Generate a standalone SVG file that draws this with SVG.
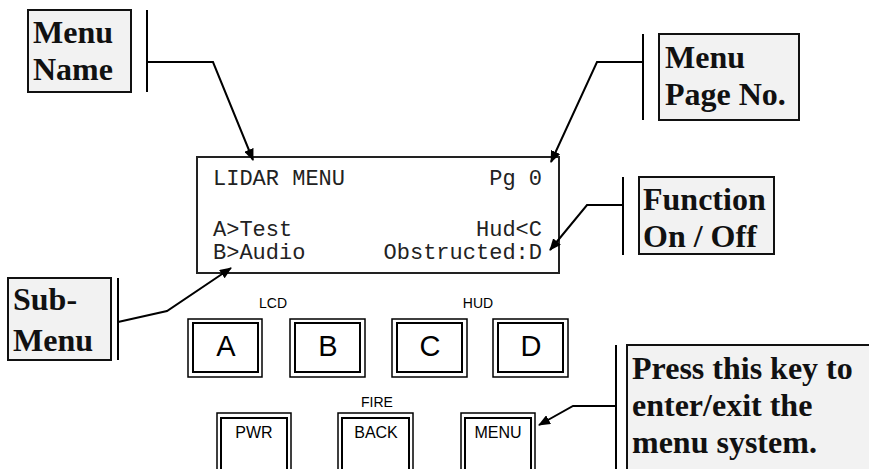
<svg xmlns="http://www.w3.org/2000/svg" width="869" height="469" viewBox="0 0 869 469">
<style>
.callout{fill:#f2f2f2;stroke:#111;stroke-width:2}
.bar{stroke:#000;stroke-width:2}
.ct{font-family:"Liberation Serif",serif;font-weight:bold;font-size:32px;fill:#111}
.lcd{font-family:"Liberation Mono",monospace;font-size:22px;fill:#222}
.key{font-family:"Liberation Sans",Arial,sans-serif;fill:#000}
.ko{fill:#fff;stroke:#000;stroke-width:1.5}
.ki{fill:#fff;stroke:#000;stroke-width:2}
.conn{fill:none;stroke:#000;stroke-width:2}
</style>
<defs>
<marker id="ah" markerWidth="12" markerHeight="10" refX="11" refY="5" orient="auto" markerUnits="userSpaceOnUse">
<path d="M0,0 L12,5 L0,10 z" fill="#000"/>
</marker>
</defs>
<rect width="869" height="469" fill="#fff"/>

<g id="lcd-display">
<rect x="197" y="157" width="362" height="116" fill="#fff" stroke="#222" stroke-width="2"/>
<text class="lcd" x="213" y="185">LIDAR MENU</text>
<text class="lcd" x="542" y="185" text-anchor="end">Pg 0</text>
<text class="lcd" x="213" y="236">A&gt;Test</text>
<text class="lcd" x="542" y="236" text-anchor="end">Hud&lt;C</text>
<text class="lcd" x="213" y="259">B&gt;Audio</text>
<text class="lcd" x="542" y="259" text-anchor="end">Obstructed:D</text>
</g>

<g id="callout-menu-name">
<rect class="callout" x="28" y="10" width="103" height="82"/>
<line class="bar" x1="147" y1="10" x2="147" y2="92"/>
<text class="ct" x="33" y="43">Menu</text>
<text class="ct" x="33" y="80">Name</text>
</g>

<g id="callout-page-no">
<rect class="callout" x="659" y="34" width="140" height="86"/>
<line class="bar" x1="643" y1="34" x2="643" y2="120"/>
<text class="ct" x="665" y="68">Menu</text>
<text class="ct" x="665" y="105">Page No.</text>
</g>

<g id="callout-function">
<rect class="callout" x="639" y="177" width="135" height="77"/>
<line class="bar" x1="623" y1="177" x2="623" y2="255"/>
<text class="ct" x="643" y="210">Function</text>
<text class="ct" x="643" y="247">On / Off</text>
</g>

<g id="callout-sub-menu">
<rect class="callout" x="8" y="278" width="103" height="82"/>
<line class="bar" x1="118" y1="278" x2="118" y2="360"/>
<text class="ct" x="13" y="310">Sub-</text>
<text class="ct" x="13" y="351">Menu</text>
</g>

<g id="callout-press">
<rect class="callout" x="627" y="345" width="250" height="130"/>
<line class="bar" x1="616" y1="345" x2="616" y2="469"/>
<text class="ct" x="632" y="379">Press this key to</text>
<text class="ct" x="632" y="416">enter/exit the</text>
<text class="ct" x="632" y="453">menu system.</text>
</g>

<g id="labels" class="key">
<text x="273" y="308" font-size="14" text-anchor="middle">LCD</text>
<text x="478" y="308" font-size="14" text-anchor="middle">HUD</text>
<text x="377" y="407" font-size="14" text-anchor="middle">FIRE</text>
</g>

<g id="key-a">
<rect class="ko" x="188" y="319" width="74" height="58"/>
<rect class="ki" x="193" y="323" width="65" height="49"/>
<text class="key" x="226" y="356" font-size="29" text-anchor="middle">A</text>
</g>
<g id="key-b">
<rect class="ko" x="290" y="319" width="75" height="58"/>
<rect class="ki" x="295" y="323" width="65" height="49"/>
<text class="key" x="328" y="356" font-size="29" text-anchor="middle">B</text>
</g>
<g id="key-c">
<rect class="ko" x="392" y="319" width="75" height="58"/>
<rect class="ki" x="397" y="323" width="65" height="49"/>
<text class="key" x="430" y="356" font-size="29" text-anchor="middle">C</text>
</g>
<g id="key-d">
<rect class="ko" x="493" y="319" width="75" height="58"/>
<rect class="ki" x="498" y="323" width="65" height="49"/>
<text class="key" x="531" y="356" font-size="29" text-anchor="middle">D</text>
</g>

<g id="key-pwr">
<rect class="ko" x="217" y="413" width="74" height="70"/>
<rect class="ki" x="221" y="418" width="66" height="60"/>
<text class="key" x="254" y="438" font-size="16" text-anchor="middle">PWR</text>
</g>
<g id="key-back">
<rect class="ko" x="338" y="413" width="75" height="70"/>
<rect class="ki" x="342" y="418" width="67" height="60"/>
<text class="key" x="376" y="438" font-size="16" text-anchor="middle">BACK</text>
</g>
<g id="key-menu">
<rect class="ko" x="461" y="413" width="74" height="70"/>
<rect class="ki" x="465" y="418" width="66" height="60"/>
<text class="key" x="498" y="438" font-size="16" text-anchor="middle">MENU</text>
</g>

<g id="connectors">
<polyline class="conn" points="147,62 213,62 253,160" marker-end="url(#ah)"/>
<polyline class="conn" points="643,62 597,62 551,162" marker-end="url(#ah)"/>
<polyline class="conn" points="623,205 587,205 550,250" marker-end="url(#ah)"/>
<polyline class="conn" points="118,322 167,311 231,268" marker-end="url(#ah)"/>
<polyline class="conn" points="616,406 573,406 539,425" marker-end="url(#ah)"/>
</g>
</svg>
